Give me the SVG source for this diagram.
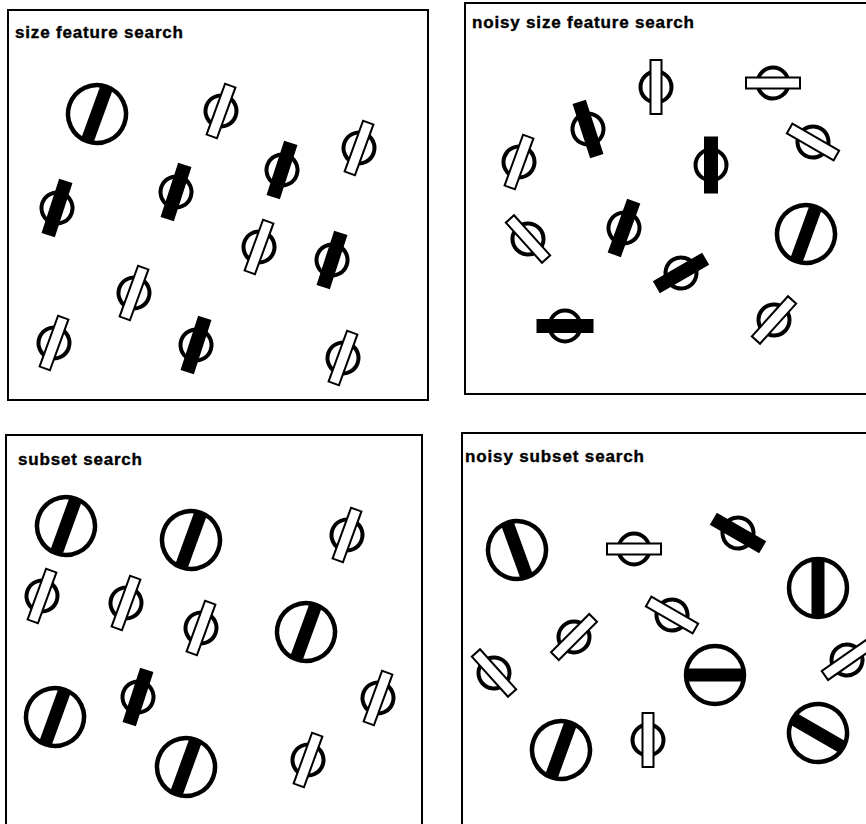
<svg xmlns="http://www.w3.org/2000/svg" xmlns:xlink="http://www.w3.org/1999/xlink" width="866" height="824" viewBox="0 0 866 824">
<style>
.frame{fill:none;stroke:#000;stroke-width:2}
.title{font-family:"Liberation Sans",Arial,Helvetica,sans-serif;font-weight:bold;font-size:17px;fill:#000;stroke:#000;stroke-width:0.4}
.ring{fill:none;stroke:#000;stroke-width:4}
.barw{fill:#fff;stroke:#000;stroke-width:2}
.barb{fill:#000;stroke:#000;stroke-width:3}
.bigring{fill:none;stroke:#000;stroke-width:4.5}
.bigbar{fill:#000}
</style>
<defs>
<g id="sw"><circle class="ring" r="15.5"/><rect class="barw" x="-5.5" y="-27" width="11" height="54"/></g>
<g id="sb"><circle class="ring" r="15.5"/><rect class="barb" x="-5.5" y="-27" width="11" height="54"/></g>
<g id="big"><rect class="bigbar" x="-6.5" y="-29" width="13" height="58"/><circle class="bigring" r="29"/></g>
</defs>
<rect width="866" height="824" fill="#fff"/>

<g id="panel-size-feature">
<rect class="frame" x="8" y="10" width="420" height="390"/>
<text class="title" x="15" y="38" textLength="168" lengthAdjust="spacing">size feature search</text>
<use xlink:href="#big" transform="translate(97,114) rotate(20)"/>
<use xlink:href="#sw" transform="translate(221,111) rotate(20)"/>
<use xlink:href="#sw" transform="translate(359,148) rotate(20)"/>
<use xlink:href="#sb" transform="translate(282,170) rotate(18)"/>
<use xlink:href="#sb" transform="translate(176,192) rotate(18)"/>
<use xlink:href="#sb" transform="translate(57,208) rotate(18)"/>
<use xlink:href="#sw" transform="translate(259,247) rotate(20)"/>
<use xlink:href="#sb" transform="translate(332,260) rotate(18)"/>
<use xlink:href="#sw" transform="translate(134,293) rotate(20)"/>
<use xlink:href="#sw" transform="translate(54,343) rotate(20)"/>
<use xlink:href="#sb" transform="translate(196,345) rotate(18)"/>
<use xlink:href="#sw" transform="translate(343,358) rotate(20)"/>
</g>

<g id="panel-noisy-size-feature">
<rect class="frame" x="465" y="3" width="410" height="391"/>
<text class="title" x="472" y="28" textLength="222" lengthAdjust="spacing">noisy size feature search</text>
<use xlink:href="#sw" transform="translate(656,87) rotate(0)"/>
<use xlink:href="#sw" transform="translate(773,83) rotate(90)"/>
<use xlink:href="#sb" transform="translate(588,129) rotate(-18)"/>
<use xlink:href="#sw" transform="translate(813,142) rotate(-60)"/>
<use xlink:href="#sw" transform="translate(519,162) rotate(20)"/>
<use xlink:href="#sb" transform="translate(711,165) rotate(0)"/>
<use xlink:href="#sw" transform="translate(528,239) rotate(-42)"/>
<use xlink:href="#sb" transform="translate(624,228) rotate(20)"/>
<use xlink:href="#big" transform="translate(806,234) rotate(20)"/>
<use xlink:href="#sb" transform="translate(681,273) rotate(60)"/>
<use xlink:href="#sb" transform="translate(565,326) rotate(90)"/>
<use xlink:href="#sw" transform="translate(774,320) rotate(42)"/>
</g>

<g id="panel-subset">
<rect class="frame" x="6" y="435" width="416" height="400"/>
<text class="title" x="18" y="465" textLength="124" lengthAdjust="spacing">subset search</text>
<use xlink:href="#big" transform="translate(66,526) rotate(20)"/>
<use xlink:href="#big" transform="translate(191,540) rotate(20)"/>
<use xlink:href="#sw" transform="translate(347,535) rotate(20)"/>
<use xlink:href="#sw" transform="translate(42,596) rotate(20)"/>
<use xlink:href="#sw" transform="translate(126,603) rotate(20)"/>
<use xlink:href="#sw" transform="translate(201,628) rotate(20)"/>
<use xlink:href="#big" transform="translate(306,632) rotate(20)"/>
<use xlink:href="#big" transform="translate(55,717) rotate(20)"/>
<use xlink:href="#sb" transform="translate(138,697) rotate(18)"/>
<use xlink:href="#sw" transform="translate(378,698) rotate(20)"/>
<use xlink:href="#big" transform="translate(186,767) rotate(20)"/>
<use xlink:href="#sw" transform="translate(308,760) rotate(20)"/>
</g>

<g id="panel-noisy-subset">
<rect class="frame" x="462" y="433" width="420" height="400"/>
<text class="title" x="465" y="462" textLength="179" lengthAdjust="spacing">noisy subset search</text>
<use xlink:href="#big" transform="translate(517,550) rotate(-20)"/>
<use xlink:href="#sw" transform="translate(634,549) rotate(90)"/>
<use xlink:href="#sb" transform="translate(738,533) rotate(-60)"/>
<use xlink:href="#big" transform="translate(818,588) rotate(0)"/>
<use xlink:href="#sw" transform="translate(672,615) rotate(-60)"/>
<use xlink:href="#sw" transform="translate(574,637) rotate(45)"/>
<use xlink:href="#sw" transform="translate(494,673) rotate(-42)"/>
<use xlink:href="#big" transform="translate(715,675) rotate(90)"/>
<use xlink:href="#sw" transform="translate(847,660) rotate(55)"/>
<use xlink:href="#big" transform="translate(561,750) rotate(20)"/>
<use xlink:href="#sw" transform="translate(648,740) rotate(0)"/>
<use xlink:href="#big" transform="translate(818,733) rotate(-60)"/>
</g>
</svg>
